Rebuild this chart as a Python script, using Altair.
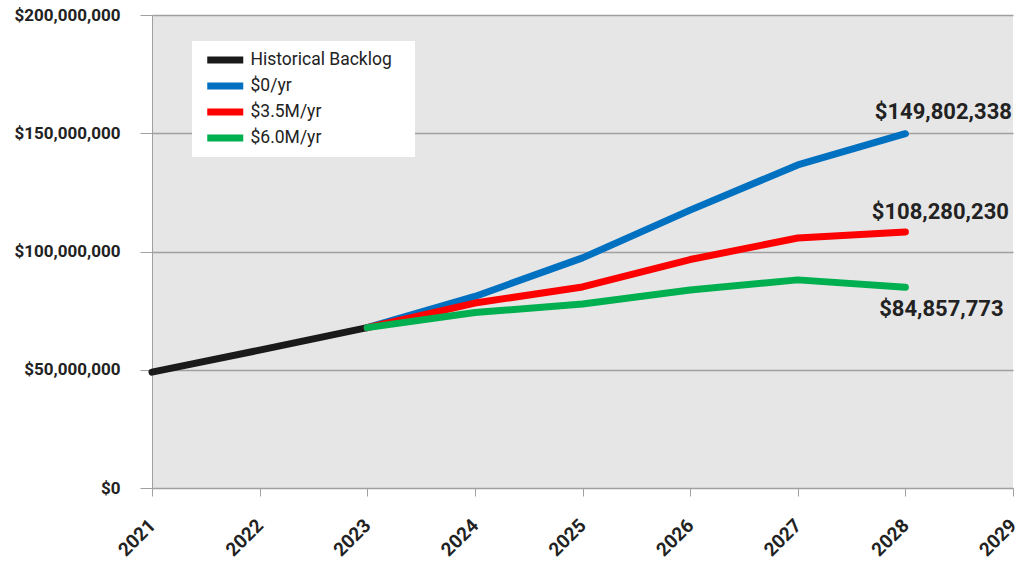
import altair as alt
import pandas as pd

# Backlog by year, in dollars
hist_years = [2021, 2022, 2023]
hist_values = [49_000_000, 58_300_000, 67_800_000]

proj_years = [2023, 2024, 2025, 2026, 2027, 2028]
zero_values = [67_800_000, 81_000_000, 97_300_000, 117_500_000, 136_600_000, 149_802_338]
mid_values = [67_800_000, 78_200_000, 85_000_000, 96_600_000, 105_700_000, 108_280_230]
high_values = [67_800_000, 74_200_000, 77_800_000, 83_700_000, 88_000_000, 84_857_773]

series_names = ["Historical Backlog", "$0/yr", "$3.5M/yr", "$6.0M/yr"]
series_colors = ["#1a1a1a", "#0070c0", "#ff0000", "#00b050"]

rows = []
for y, v in zip(hist_years, hist_values):
    rows.append({"year": y, "value": v, "series": series_names[0]})
for i, vals in enumerate([zero_values, mid_values, high_values], start=1):
    for y, v in zip(proj_years, vals):
        rows.append({"year": y, "value": v, "series": series_names[i]})
df = pd.DataFrame(rows)

ends = pd.DataFrame({
    "year": [2028, 2028, 2028],
    "value": [zero_values[-1], mid_values[-1], high_values[-1]],
    "series": series_names[1:],
})

x = alt.X(
    "year:Q",
    scale=alt.Scale(domain=[2021, 2029], nice=False, zero=False),
    axis=alt.Axis(
        values=list(range(2021, 2030)), format="d", title=None, grid=False,
        labelAngle=-45, labelAlign="right", labelBaseline="middle",
        labelFont="Roboto", labelFontWeight="bold", labelFontSize=19,
        labelColor="#222222", labelPadding=26, tickSize=8,
        domainColor="#a0a0a0", tickColor="#a0a0a0", labelOverlap=False,
    ),
)
y = alt.Y(
    "value:Q",
    scale=alt.Scale(domain=[0, 200_000_000], nice=False),
    axis=alt.Axis(
        values=[0, 50_000_000, 100_000_000, 150_000_000, 200_000_000],
        format="$,d", title=None, grid=True, gridColor="#a0a0a0", gridWidth=1.5,
        labelFont="Roboto", labelFontWeight="bold", labelFontSize=17,
        labelColor="#222222", labelPadding=20, tickSize=12,
        domainColor="#a0a0a0", tickColor="#a0a0a0",
    ),
)

# wide flat swatch: a horizontal path drawn past the nominal symbol box;
# a blank title on the right widens the white box
color = alt.Color(
    "series:N",
    scale=alt.Scale(domain=series_names, range=series_colors),
    legend=alt.Legend(
        title="\u2003", titleOrient="right", titleFontSize=10, titlePadding=15,
        orient="none", legendX=40, legendY=26,
        fillColor="white", padding=8, rowPadding=4, clipHeight=22,
        symbolType="M-3.6,0H3.6", symbolStrokeWidth=7, symbolSize=100,
        symbolOffset=16.5, symbolFillColor="transparent",
        labelFont="Roboto", labelFontSize=17.5, labelColor="#222222",
        labelOffset=16.5, offset=0,
    ),
)

lines = alt.Chart(df).mark_line(strokeWidth=7, strokeCap="round", strokeJoin="round").encode(
    x=x, y=y, color=color, order=alt.Order("year:Q"), detail="series:N",
)
# one layer per series so the later scenarios sit on top
layers = [lines.transform_filter(alt.datum.series == name) for name in series_names]

label_base = alt.Chart(ends).transform_calculate(
    label="format(datum.value, '$,d')"
)
text_style = dict(font="Roboto", fontWeight="bold", fontSize=22, color="#222222")
end_labels = alt.layer(
    label_base.transform_filter(alt.datum.series == "$0/yr").mark_text(
        dx=38, dy=-22, **text_style
    ).encode(x="year:Q", y="value:Q", text="label:N"),
    label_base.transform_filter(alt.datum.series == "$3.5M/yr").mark_text(
        dx=35, dy=-20, **text_style
    ).encode(x="year:Q", y="value:Q", text="label:N"),
    label_base.transform_filter(alt.datum.series == "$6.0M/yr").mark_text(
        dx=36, dy=22, **text_style
    ).encode(x="year:Q", y="value:Q", text="label:N"),
)

chart = alt.layer(*layers, end_labels).properties(
    width=861, height=473,
    padding={"left": 152, "top": 15, "right": 21, "bottom": 77},
    autosize=alt.AutoSizeParams(type="none"),
    background="white",
).configure_view(
    fill="#e6e6e6", stroke=None,
)

chart.save("out.html", embed_options={"renderer": "svg", "actions": False})
